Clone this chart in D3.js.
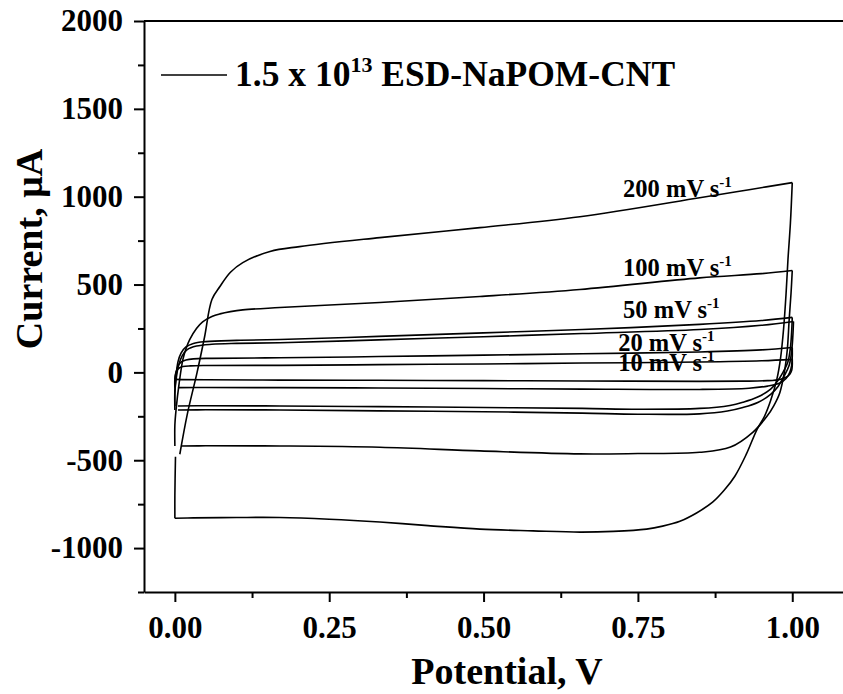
<!DOCTYPE html>
<html>
<head>
<meta charset="utf-8">
<script src="https://cdn.jsdelivr.net/npm/d3@7"></script>
<style>
  body { margin: 0; background: #fff; }
  text { font-family: "Liberation Serif", "Times New Roman", serif; font-weight: bold; }
</style>
</head>
<body>
<script>
    // CV loops, [potential V, current uA], anodic sweep then cathodic sweep
    var cv10 = [[0.000,-40],[0.001,-10],[0.003,10],[0.007,25],[0.013,33],[0.025,37],[0.05,39],[0.17,40],[0.33,44],[0.5,48],[0.66,53],[0.85,59],[0.95,66],[1.0,74],
        [1.0,40],[0.999,10],[0.996,-10],[0.99,-28],[0.98,-40],[0.96,-47],[0.92,-50],[0.85,-51],[0.66,-49],[0.5,-47],[0.33,-45],[0.17,-44],[0.05,-42],[0.01,-41],[0.002,-40]];
    var cv20 = [[0.0,-87],[0.0,-40],[0.002,0],[0.005,35],[0.01,58],[0.018,70],[0.03,77],[0.06,80],[0.17,83],[0.33,90],[0.5,98],[0.66,106],[0.85,116],[0.95,128],[1.0,142],
        [1.0,90],[0.999,40],[0.996,0],[0.99,-35],[0.98,-60],[0.96,-78],[0.93,-90],[0.85,-97],[0.66,-95],[0.5,-92],[0.33,-89],[0.17,-87],[0.05,-86],[0.005,-87]];
    var cv50a = [[0.0,-191],[0.0,-100],[0.002,-20],[0.005,60],[0.01,110],[0.018,145],[0.03,165],[0.05,175],[0.1,182],[0.17,187],[0.33,205],[0.5,225],[0.66,244],[0.85,273],[0.95,295],[1.0,313],
        [0.999,230],[0.997,140],[0.993,60],[0.985,0],[0.975,-55],[0.965,-95],[0.943,-142],[0.92,-170],[0.899,-188],[0.85,-205],[0.75,-210],[0.66,-205],[0.5,-200],[0.33,-195],[0.17,-191],[0.05,-190],[0.005,-191]];
    var cv50b = [[0.0,-214],[0.0,-120],[0.002,-40],[0.006,40],[0.012,95],[0.02,130],[0.035,150],[0.06,160],[0.1,165],[0.17,169],[0.33,185],[0.5,203],[0.66,221],[0.85,244],[0.95,268],[1.002,290],
        [1.001,210],[0.999,120],[0.995,40],[0.987,-20],[0.977,-80],[0.965,-125],[0.945,-170],[0.92,-200],[0.895,-220],[0.85,-236],[0.75,-238],[0.66,-232],[0.5,-224],[0.33,-219],[0.17,-214],[0.05,-213],[0.005,-214]];
    var cv100 = [[0.0,-419],[0.0,-300],[0.002,-210],[0.007,-60],[0.013,74],[0.018,135],[0.024,187],[0.035,250],[0.045,288],[0.06,318],[0.073,333],[0.09,346],[0.11,356],[0.17,369],[0.332,398],[0.494,432],[0.656,472],[0.85,538],[0.95,562],[1.0,580],
        [0.998,450],[0.995,300],[0.992,130],[0.988,17],[0.98,-114],[0.97,-190],[0.959,-250],[0.936,-341],[0.9,-425],[0.85,-455],[0.75,-462],[0.656,-464],[0.494,-447],[0.332,-426],[0.17,-419],[0.05,-418],[0.01,-419]];
    var cv200 = [[0.008,-466],[0.02,-240],[0.036,0],[0.048,200],[0.06,415],[0.073,489],[0.09,570],[0.11,625],[0.154,688],[0.202,716],[0.332,767],[0.494,824],[0.656,886],[0.85,994],[0.93,1040],[1.0,1080],
        [0.997,850],[0.993,640],[0.99,450],[0.986,250],[0.981,80],[0.975,-40],[0.965,-160],[0.955,-250],[0.943,-324],[0.925,-470],[0.907,-591],[0.89,-670],[0.871,-739],[0.845,-800],[0.818,-847],[0.79,-875],[0.764,-892],[0.71,-905],[0.656,-909],[0.58,-902],[0.494,-892],[0.41,-872],[0.332,-852],[0.25,-836],[0.17,-826],[0.1,-826],[0.03,-828],[0.0,-830],[0.0,-700],[0.001,-480]];

    var loops = [cv10, cv20, cv50a, cv50b, cv100, cv200];

    var rateLabels = ["200 mV s", "100 mV s", "50 mV s", "20 mV s", "10 mV s"];
    var rateLabelAt = [[0.726, 998], [0.726, 549], [0.726, 310], [0.718, 122], [0.718, 10]];

    var xTicks = [0, 0.25, 0.5, 0.75, 1.0],
        xMinor = [0.125, 0.375, 0.625, 0.875],
        yTicks = [-1000, -500, 0, 500, 1000, 1500, 2000],
        yMinor = [-1250, -750, -250, 250, 750, 1250, 1750];

    var width = 843, height = 694;

    var x = d3.scaleLinear().domain([-0.05, 1.1]).range([144, 854]);
    var y = d3.scaleLinear().domain([-1250, 2000]).range([592, 21]);

    var svg = d3.select("body").append("svg")
        .attr("width", width)
        .attr("height", height);

    // minor ticks first
    svg.append("g")
        .attr("transform", "translate(0," + y.range()[0] + ")")
        .call(d3.axisBottom(x).tickValues(xMinor).tickSize(6).tickSizeOuter(0).tickFormat(""))
        .call(function (g) { g.select(".domain").remove(); })
        .selectAll("line").attr("stroke-width", 2);

    svg.append("g")
        .attr("transform", "translate(" + x.range()[0] + ",0)")
        .call(d3.axisLeft(y).tickValues(yMinor).tickSize(6).tickSizeOuter(0).tickFormat(""))
        .call(function (g) { g.select(".domain").remove(); })
        .selectAll("line").attr("stroke-width", 2);

    var xAxis = svg.append("g")
        .attr("transform", "translate(0," + y.range()[0] + ")")
        .call(d3.axisBottom(x).tickValues(xTicks).tickSize(10).tickSizeOuter(0).tickPadding(14)
            .tickFormat(d3.format(".2f")));

    var yAxis = svg.append("g")
        .attr("transform", "translate(" + x.range()[0] + ",0)")
        .call(d3.axisLeft(y).tickValues(yTicks).tickSize(10).tickSizeOuter(0).tickPadding(11)
            .tickFormat(function (d) { return String(d); }));

    [xAxis, yAxis].forEach(function (g) {
        g.select(".domain").attr("stroke-width", 2);
        g.selectAll("line").attr("stroke-width", 2);
        g.selectAll("text")
            .attr("fill", "#000")
            .style("font-family", "'Liberation Serif', serif")
            .style("font-weight", "bold")
            .style("font-size", "31px");
    });

    // top frame line
    svg.append("line")
        .attr("x1", x.range()[0]).attr("x2", x.range()[1])
        .attr("y1", y.range()[1]).attr("y2", y.range()[1])
        .attr("stroke", "#000").attr("stroke-width", 2);

    // split each loop at its switching potentials so the corners stay sharp
    var sweeps = [];
    loops.forEach(function (l) {
        var k = d3.maxIndex(l, function (d) { return d[0]; });
        sweeps.push(l.slice(0, k + 1));
        var back = l.slice(k);
        var j = d3.minIndex(back, function (d) { return d[0]; });
        if (j > 0 && j < back.length - 1) {
            sweeps.push(back.slice(0, j + 1));
            sweeps.push(back.slice(j));
        } else {
            sweeps.push(back);
        }
    });

    var line = d3.line()
        .x(function (d) { return x(d[0]); })
        .y(function (d) { return y(d[1]); })
        .curve(d3.curveCatmullRom.alpha(0.5));

    svg.selectAll(".sweep")
        .data(sweeps)
        .enter()
        .append("path")
        .attr("class", "sweep")
        .attr("d", line)
        .attr("fill", "none")
        .attr("stroke", "#000")
        .attr("stroke-width", 1.6);

    // scan rate labels
    var lab = svg.selectAll(".rate")
        .data(rateLabels)
        .enter()
        .append("text")
        .attr("class", "rate")
        .attr("x", function (d, i) { return x(rateLabelAt[i][0]); })
        .attr("y", function (d, i) { return y(rateLabelAt[i][1]); })
        .style("font-size", "24.5px")
        .text(function (d) { return d; });
    lab.append("tspan")
        .attr("dy", "-10")
        .style("font-size", "15px")
        .text("-1");

    // legend
    svg.append("line")
        .attr("x1", 161).attr("x2", 227)
        .attr("y1", 75).attr("y2", 75)
        .attr("stroke", "#000").attr("stroke-width", 1.6);

    var leg = svg.append("text")
        .attr("x", 235)
        .attr("y", 86)
        .style("font-size", "35.5px")
        .text("1.5 x 10");
    leg.append("tspan")
        .attr("dy", "-14")
        .style("font-size", "22px")
        .text("13");
    leg.append("tspan")
        .attr("dy", "14")
        .text(" ESD-NaPOM-CNT");

    // axis titles
    svg.append("text")
        .attr("x", 507)
        .attr("y", 684)
        .attr("text-anchor", "middle")
        .style("font-size", "38px")
        .text("Potential, V");

    svg.append("text")
        .attr("transform", "translate(42,249) rotate(-90)")
        .attr("text-anchor", "middle")
        .style("font-size", "38px")
        .text("Current, \u03bcA");
</script>
</body>
</html>
